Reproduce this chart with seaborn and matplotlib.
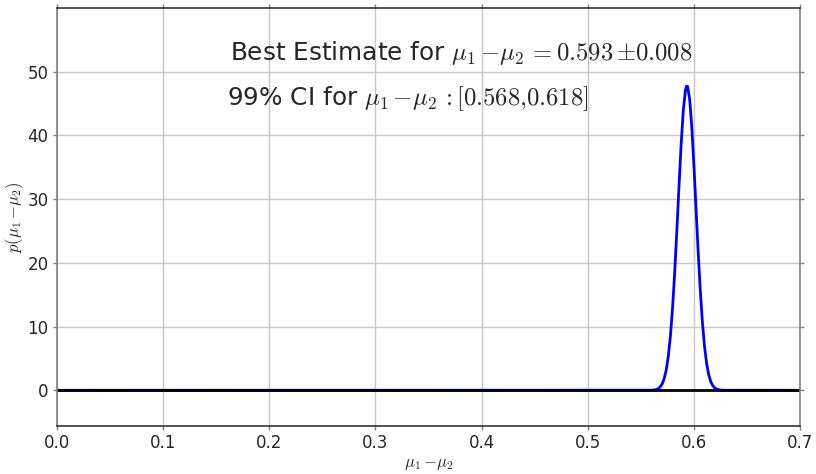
import numpy as np
import pandas as pd
import seaborn as sns
import matplotlib.pyplot as plt

# values
diff_x = [0.0, 0.560, 0.562, 0.564, 0.566, 0.568, 0.570, 0.572, 0.574, 0.576, 0.578,
          0.580, 0.582, 0.584, 0.586, 0.588, 0.590, 0.592, 0.593, 0.594, 0.596,
          0.598, 0.600, 0.602, 0.604, 0.606, 0.608, 0.610, 0.612, 0.614, 0.616,
          0.618, 0.620, 0.622, 0.624, 0.626, 0.628, 0.7]
density = [0.0, 0.02, 0.04, 0.10, 0.22, 0.48, 0.96, 1.81, 3.23, 5.46, 8.71,
           13.14, 18.73, 25.22, 32.09, 38.58, 43.83, 47.05, 47.72, 47.72, 45.73,
           41.41, 35.43, 28.65, 21.88, 15.80, 10.78, 6.94, 4.23, 2.43, 1.32,
           0.68, 0.33, 0.15, 0.07, 0.03, 0.01, 0.0]

best_est = 0.593
best_err = 0.008
ci_low, ci_high = 0.568, 0.618

df = pd.DataFrame({'x': diff_x, 'p': density})

sns.set_theme(style="whitegrid")
plt.rcParams['mathtext.fontset'] = 'cm'
plt.rcParams['font.family'] = ['DejaVu Sans']

fig = plt.figure(figsize=(8.16, 4.74), dpi=100)
ax = fig.add_axes([0.0699, 0.1013, 0.9105, 0.8818])

sns.lineplot(data=df, x='x', y='p', color='blue', linewidth=2, ax=ax)
ax.axhline(0, color='black', linewidth=2)

ax.set_xlim(0, 0.7)
ax.set_ylim(-5.6, 60)
ax.set_xticks([0.0, 0.1, 0.2, 0.3, 0.4, 0.5, 0.6, 0.7])
ax.set_yticks([0, 10, 20, 30, 40, 50])
ax.grid(True, color='#c8c8c8', linewidth=1)

for side in ['left', 'right']:
    ax.spines[side].set_color('#808080')
for side in ['top', 'bottom']:
    ax.spines[side].set_color('#333333')
for s in ax.spines.values():
    s.set_linewidth(1.2)

ax.tick_params(axis='both', which='major', direction='out', length=3, width=1,
               color='#808080', labelsize=12, labelcolor='#262626',
               top=True, right=True, left=True, bottom=True, pad=3)

ax.set_xlabel(r'$\mu_1\,{-}\mu_2$', fontsize=12, labelpad=1)
ax.set_ylabel(r'$p(\mu_1\,{-}\mu_2)$', fontsize=12, labelpad=1)

ax.text(0.163, 51.9, r'Best Estimate for $\mu_1\,{-}\mu_2\,{=}%.3f\,{\pm}%.3f$' % (best_est, best_err),
        fontsize=17.8, color='#262626')
ax.text(0.160, 44.8, r'99%% CI for $\mu_1\,{-}\mu_2\,{:}[%.3f{,}%.3f]$' % (ci_low, ci_high),
        fontsize=17.8, color='#262626')

fig.savefig('out.png', dpi=100)
